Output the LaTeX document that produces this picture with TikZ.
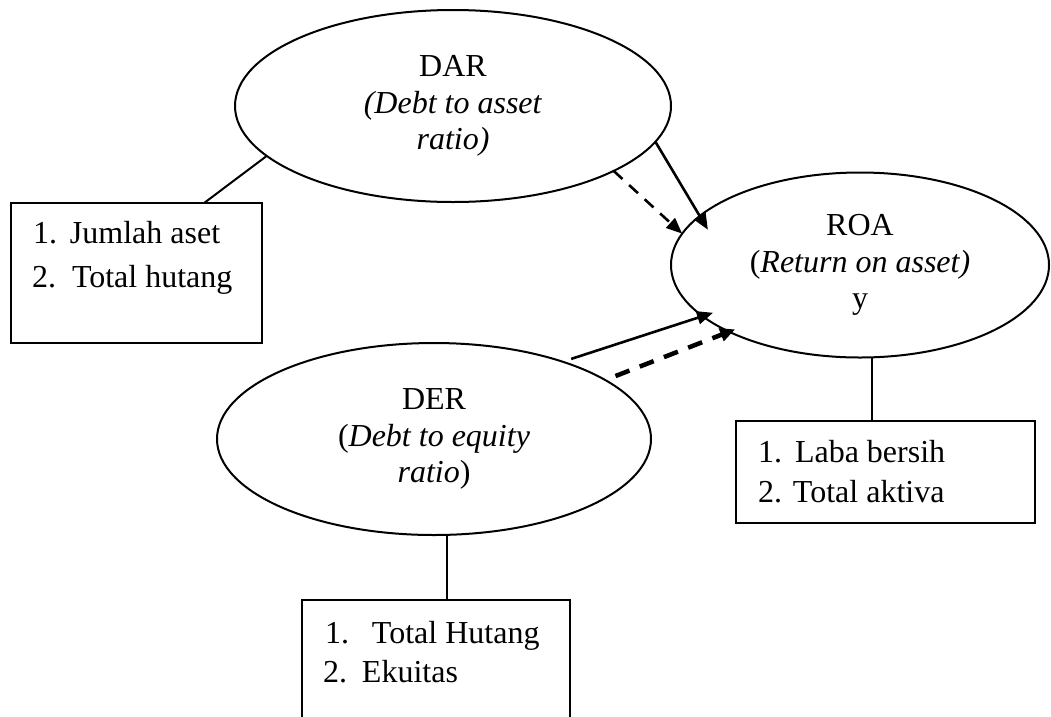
\documentclass[tikz,border=0pt]{standalone}
\usepackage{fontspec}
\setmainfont{Liberation Serif}
\usetikzlibrary{shapes.geometric,arrows.meta,calc}
\begin{document}
\begin{tikzpicture}[x=1pt,y=-1pt,
  every node/.style={font=\fontsize{32pt}{36.8pt}\selectfont},
  ell/.style={draw, ellipse, line width=2pt, inner sep=0pt, outer sep=0pt, align=center},
  ibox/.style={draw, rectangle, line width=2pt, inner sep=0pt, outer sep=0pt},
  item/.style={anchor=base west, inner sep=0pt, outer sep=0pt},
  link/.style={line width=2pt},
  arr/.style={line width=2.6pt, -{Triangle[length=16pt,width=13pt]}},
  darr/.style={arr, dash pattern=on 12pt off 9pt},
  ddarr/.style={arr, line width=4.5pt, dash pattern=on 15pt off 11pt, -{Triangle[length=15pt,width=13pt]}},
]
\fill[white] (0,0) rectangle (1051,716);
\clip (0,0) rectangle (1051,716);

% ellipses
\node[ell, minimum width=436pt, minimum height=192pt] (DAR) at (453,106)
  {DAR\\\textit{(Debt to asset}\\\textit{ratio)}};
\node[ell, minimum width=378pt, minimum height=185pt] (ROA) at (860,265)
  {ROA\\(\textit{Return on asset)}\\y};
\node[ell, minimum width=434pt, minimum height=192pt] (DER) at (434,439)
  {DER\\(\textit{Debt to equity}\\\textit{ratio})};

% indicator boxes
\node[ibox, minimum width=251pt, minimum height=140pt] (dbox) at (136.5,273) {};
\node[ibox, minimum width=299pt, minimum height=102pt] (rbox) at (885.5,472) {};
\node[ibox, minimum width=268pt, minimum height=130pt] (ebox) at (436,665) {};

% box texts
\node[item] (d1) at (33,243) {\makebox[37pt][l]{1.}Jumlah aset};
\node[item] (d2) at (32,287) {\makebox[40pt][l]{2.}Total hutang};
\node[item] (r1) at (758,462) {\makebox[37pt][l]{1.}Laba bersih};
\node[item] (r2) at (758,502) {\makebox[35pt][l]{2.}Total aktiva};
\node[item] (e1) at (325,643) {\makebox[47pt][l]{1.}Total Hutang};
\node[item] (e2) at (323,682) {\makebox[39pt][l]{2.}Ekuitas};

% links ellipse - box
\draw[link] (DAR.195.5) -- (dbox.46.5);
\draw[link] ($(ROA.south)+(12,0)$) -- ($(rbox.north)+(-13.5,0)$);
\draw[link] ($(DER.south)+(13,0)$) -- ($(ebox.north)+(11,0)$);

% arrows to ROA
\draw[arr, shorten >=-16pt] (DAR.-10.8) -- (ROA.163.7);
\draw[darr] (DAR.-22.7) -- (ROA.170.5);
\draw[arr, shorten <=9pt, shorten >=-11pt] (DER.31.1) -- (ROA.198.1);
\draw[ddarr, shorten <=11pt, shorten >=-6.5pt] (DER.19.7) -- (ROA.207.1);
\end{tikzpicture}
\end{document}
